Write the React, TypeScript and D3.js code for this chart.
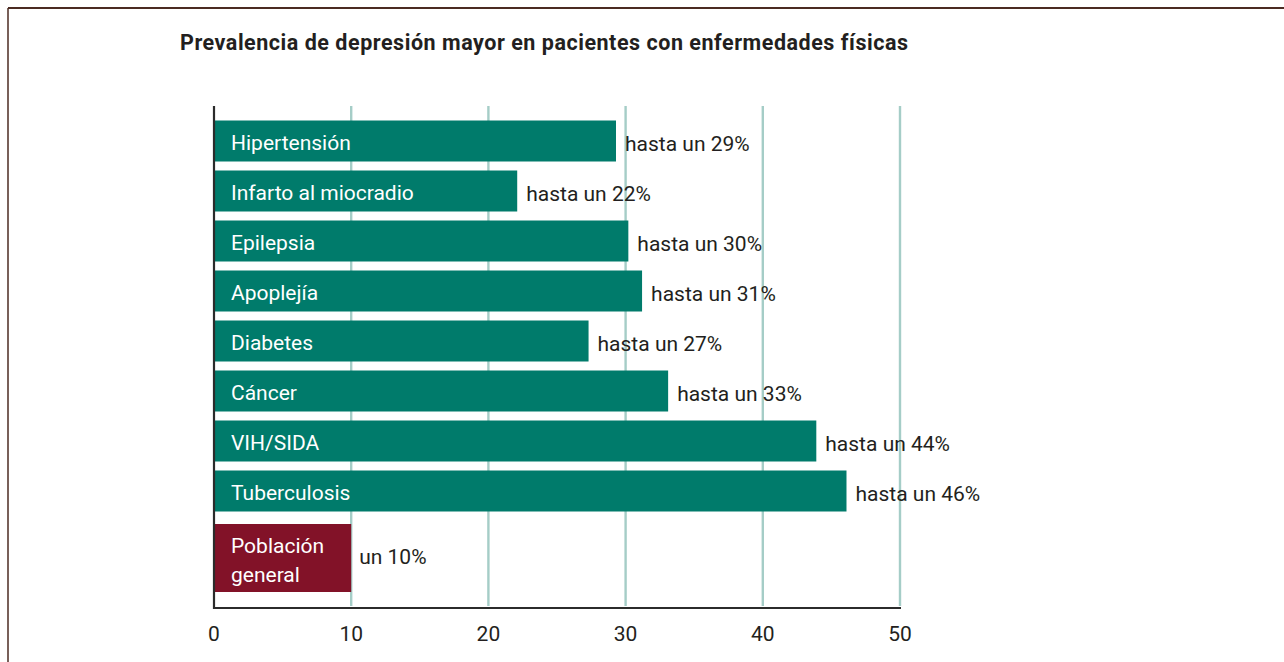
import React from "react";
import * as d3 from "d3";

const TITLE = "Prevalencia de depresión mayor en pacientes con enfermedades físicas";
const categories = ["Hipertensión", "Infarto al miocradio", "Epilepsia", "Apoplejía", "Diabetes", "Cáncer", "VIH/SIDA", "Tuberculosis"];
const values = [29.3, 22.1, 30.2, 31.2, 27.3, 33.1, 43.9, 46.1];
const valueLabels = ["hasta un 29%", "hasta un 22%", "hasta un 30%", "hasta un 31%", "hasta un 27%", "hasta un 33%", "hasta un 44%", "hasta un 46%"];
const baseCategory = ["Población", "general"];
const baseValue = 10;
const baseLabel = "un 10%";
const ticks = [0, 10, 20, 30, 40, 50];

const TEAL = "#007b6b";
const MAROON = "#821228";
const GRID = "#a5cdc7";
const FONT = "'Roboto', sans-serif";

export default function App() {
  const W = 1284, H = 662;
  const x = d3.scaleLinear().domain([0, 50]).range([214, 900]);
  const y = d3.scaleBand<string>().domain(categories).range([116, 516]).paddingInner(0.18).paddingOuter(0.09);
  const axisY = 608;
  const topY = 106;
  const baseTop = 524, baseH = 68;
  const labelOffset = 9;

  return (
    <svg width={W} height={H} style={{ position: "absolute", left: 0, top: 0, background: "#fff" }} fontFamily={FONT}>
      <rect x={0} y={0} width={W} height={H} fill="#fff" />
      <line x1={8} y1={8} x2={W} y2={8} stroke="#4b2b22" strokeWidth={2} />
      <line x1={8} y1={8} x2={8} y2={H} stroke="#4b2b22" strokeWidth={1.5} />
      <text x={180} y={50} fontSize={21.5} fontWeight="bold" fill="#231f20" textLength={728} lengthAdjust="spacing">{TITLE}</text>
      {ticks.filter(t => t > 0).map(t => (
        <line key={t} x1={x(t)} x2={x(t)} y1={topY} y2={axisY - 2} stroke={GRID} strokeWidth={2.4} />
      ))}
      {categories.map((c, i) => (
        <g key={c}>
          <rect x={x(0)} y={y(c)!} width={x(values[i]) - x(0)} height={y.bandwidth()} fill={TEAL} />
          <text x={231} y={y(c)! + y.bandwidth() / 2 + 1.5} dy="0.35em" fill="#fff" fontSize={21}>{c}</text>
          <text x={x(values[i]) + labelOffset} y={y(c)! + y.bandwidth() / 2 + 2.5} dy="0.35em" fill="#231f20" fontSize={21}>{valueLabels[i]}</text>
        </g>
      ))}
      <rect x={x(0)} y={baseTop} width={x(baseValue) - x(0)} height={baseH} fill={MAROON} />
      <text x={231} y={546} dy="0.35em" fill="#fff" fontSize={21}>{baseCategory[0]}</text>
      <text x={231} y={575} dy="0.35em" fill="#fff" fontSize={21}>{baseCategory[1]}</text>
      <text x={x(baseValue) + 8} y={557} dy="0.35em" fill="#231f20" fontSize={21}>{baseLabel}</text>
      <line x1={x(0)} x2={x(0)} y1={topY} y2={axisY + 1} stroke="#2b2b2b" strokeWidth={2.2} />
      <line x1={x(0) - 1} x2={x(50) + 1} y1={axisY} y2={axisY} stroke="#2b2b2b" strokeWidth={2.2} />
      {ticks.map(t => (
        <text key={t} x={x(t)} y={634} dy="0.35em" textAnchor="middle" fill="#231f20" fontSize={21}>{t}</text>
      ))}
    </svg>
  );
}
